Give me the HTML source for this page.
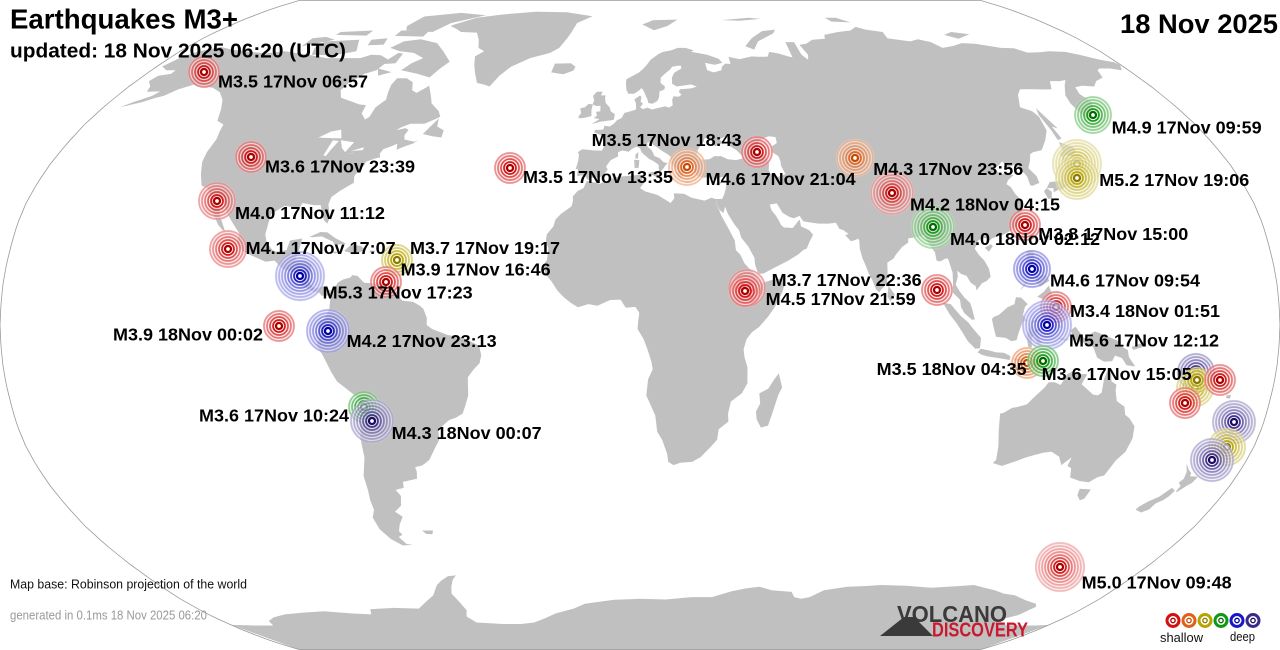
<!DOCTYPE html>
<html><head><meta charset="utf-8"><title>Earthquakes M3+</title>
<style>
html,body{margin:0;padding:0;background:#fff;}
svg{display:block;}
text{font-family:"Liberation Sans",Arial,sans-serif;}
.lb{font-weight:bold;font-size:17.5px;fill:#000;}
</style></head>
<body>
<svg id="s" width="1280" height="650" viewBox="0 0 1280 650" xmlns="http://www.w3.org/2000/svg">
<rect width="1280" height="650" fill="#fff"/>
<g id="land" fill="#c0c0c0" fill-rule="nonzero"></g>
<g id="lakes" fill="#fff"></g>
<path id="outline" fill="none" stroke="#9a9a9a" stroke-width="0.8"/>
<g id="marks"></g>

<!-- logo -->
<polygon points="880,636 904,617 914,617 933,636" fill="#3a3a3a"/>
<text x="897" y="622" font-size="23" font-weight="bold" fill="#3a3a3a" textLength="110" lengthAdjust="spacingAndGlyphs">VOLCANO</text>
<text x="932" y="636.5" font-size="20" font-weight="bold" fill="#c8192e" textLength="96" lengthAdjust="spacingAndGlyphs">DISCOVERY</text>

<!-- legend -->
<g id="legend"></g>
<text x="1160" y="642" font-size="12.5" fill="#111" textLength="43" lengthAdjust="spacingAndGlyphs">shallow</text>
<text x="1230" y="641" font-size="12.5" fill="#111" textLength="25" lengthAdjust="spacingAndGlyphs">deep</text>

<!-- titles -->
<text x="10" y="28.5" font-size="28" font-weight="bold" fill="#000" textLength="228" lengthAdjust="spacingAndGlyphs">Earthquakes M3+</text>
<text x="10" y="57.3" font-size="20.5" font-weight="bold" fill="#000" textLength="336" lengthAdjust="spacingAndGlyphs">updated: 18 Nov 2025 06:20 (UTC)</text>
<text x="1120" y="33" font-size="27" font-weight="bold" fill="#000" textLength="158" lengthAdjust="spacingAndGlyphs">18 Nov 2025</text>
<text x="10" y="588.3" font-size="12.5" fill="#111" textLength="237" lengthAdjust="spacingAndGlyphs">Map base: Robinson projection of the world</text>
<text x="10" y="619.3" font-size="12.5" fill="#999" textLength="197" lengthAdjust="spacingAndGlyphs">generated in 0.1ms 18 Nov 2025 06:20</text>

<!-- labels -->
<g class="lb">
<text class="lb" x="218" y="87.5" textLength="150" lengthAdjust="spacingAndGlyphs">M3.5 17Nov 06:57</text>
<text class="lb" x="265" y="172.5" textLength="150" lengthAdjust="spacingAndGlyphs">M3.6 17Nov 23:39</text>
<text class="lb" x="235" y="219" textLength="150" lengthAdjust="spacingAndGlyphs">M4.0 17Nov 11:12</text>
<text class="lb" x="245.7" y="254" textLength="150" lengthAdjust="spacingAndGlyphs">M4.1 17Nov 17:07</text>
<text class="lb" x="410" y="254" textLength="150" lengthAdjust="spacingAndGlyphs">M3.7 17Nov 19:17</text>
<text class="lb" x="400.7" y="275.5" textLength="150" lengthAdjust="spacingAndGlyphs">M3.9 17Nov 16:46</text>
<text class="lb" x="322.7" y="298.5" textLength="150" lengthAdjust="spacingAndGlyphs">M5.3 17Nov 17:23</text>
<text class="lb" x="113" y="340.5" textLength="150" lengthAdjust="spacingAndGlyphs">M3.9 18Nov 00:02</text>
<text class="lb" x="346.7" y="347" textLength="150" lengthAdjust="spacingAndGlyphs">M4.2 17Nov 23:13</text>
<text class="lb" x="199" y="421.5" textLength="150" lengthAdjust="spacingAndGlyphs">M3.6 17Nov 10:24</text>
<text class="lb" x="391.7" y="439" textLength="150" lengthAdjust="spacingAndGlyphs">M4.3 18Nov 00:07</text>
<text class="lb" x="523" y="183" textLength="150" lengthAdjust="spacingAndGlyphs">M3.5 17Nov 13:35</text>
<text class="lb" x="591.7" y="146" textLength="150" lengthAdjust="spacingAndGlyphs">M3.5 17Nov 18:43</text>
<text class="lb" x="705.7" y="185" textLength="150" lengthAdjust="spacingAndGlyphs">M4.6 17Nov 21:04</text>
<text class="lb" x="873.3" y="175" textLength="150" lengthAdjust="spacingAndGlyphs">M4.3 17Nov 23:56</text>
<text class="lb" x="910" y="210.7" textLength="150" lengthAdjust="spacingAndGlyphs">M4.2 18Nov 04:15</text>
<text class="lb" x="950" y="245" textLength="150" lengthAdjust="spacingAndGlyphs">M4.0 18Nov 02:12</text>
<text class="lb" x="1038.3" y="240" textLength="150" lengthAdjust="spacingAndGlyphs">M3.8 17Nov 15:00</text>
<text class="lb" x="771.7" y="286" textLength="150" lengthAdjust="spacingAndGlyphs">M3.7 17Nov 22:36</text>
<text class="lb" x="765.7" y="305" textLength="150" lengthAdjust="spacingAndGlyphs">M4.5 17Nov 21:59</text>
<text class="lb" x="1111.7" y="133.3" textLength="150" lengthAdjust="spacingAndGlyphs">M4.9 17Nov 09:59</text>
<text class="lb" x="1099.3" y="186" textLength="150" lengthAdjust="spacingAndGlyphs">M5.2 17Nov 19:06</text>
<text class="lb" x="1050" y="286.7" textLength="150" lengthAdjust="spacingAndGlyphs">M4.6 17Nov 09:54</text>
<text class="lb" x="1070" y="317" textLength="150" lengthAdjust="spacingAndGlyphs">M3.4 18Nov 01:51</text>
<text class="lb" x="1069" y="346.7" textLength="150" lengthAdjust="spacingAndGlyphs">M5.6 17Nov 12:12</text>
<text class="lb" x="876.7" y="375" textLength="150" lengthAdjust="spacingAndGlyphs">M3.5 18Nov 04:35</text>
<text class="lb" x="1041.7" y="380" textLength="150" lengthAdjust="spacingAndGlyphs">M3.6 17Nov 15:05</text>
<text class="lb" x="1081.7" y="588.3" textLength="150" lengthAdjust="spacingAndGlyphs">M5.0 17Nov 09:48</text>
</g>
</svg>

<script>
(function(){
var NS="http://www.w3.org/2000/svg";
var T=[[1,0],[.9986,.062],[.9954,.124],[.99,.186],[.9822,.248],[.973,.31],[.96,.372],[.9427,.434],[.9216,.4958],[.8962,.5571],[.8679,.6176],[.835,.6769],[.7986,.7346],[.7597,.7903],[.7186,.8435],[.6732,.8936],[.6213,.9394],[.5722,.9761],[.5322,1]];
var R=640/Math.PI, YS=324.6, L0=10;
function rb(lat){var a=Math.min(90,Math.abs(lat));var i=Math.min(17,Math.floor(a/5));var f=(a-i*5)/5;
 return [T[i][0]+(T[i+1][0]-T[i][0])*f, T[i][1]+(T[i+1][1]-T[i][1])*f];}
function PD(d,lat){var r=rb(lat);return [640+R*r[0]*d*Math.PI/180, 325-(lat<0?-1:1)*YS*r[1]];}
function P(lon,lat){var d=lon-L0;while(d<-180)d+=360;while(d>180)d-=360;return PD(d,lat);}
function path(a){var s='';for(var i=0;i<a.length;i+=2){var p=P(a[i],a[i+1]);s+=(i?'L':'M')+p[0].toFixed(1)+' '+p[1].toFixed(1);}return s+'Z';}

var NA=[-168,65.6,-166,68.3,-163,69.8,-156.8,71.3,-150,70.4,-141,69.7,-135,69.4,-129,70,-124,69.5,-117,68.8,-110,68,-104,68,-97,68,-94,69,-90,68.8,-86,67.6,-84,69.5,-82,69.3,-82,66.5,-86,66.3,-87,64.5,-90.5,63.5,-93.5,61,-94.5,59,-92.5,57,-88,56,-85,55.3,-82.3,55,-82.2,52.9,-80,51.3,-79,52,-78.7,54.5,-76.7,56.5,-77.5,58.5,-78,60.5,-77.5,62.3,-74,62.3,-71,61.2,-69.5,59,-67.5,58.3,-65,59.8,-64.5,60.3,-62,57.5,-60.5,55.5,-57,53.5,-55.7,52,-57,51.4,-60,50.2,-64.5,50.2,-67,49.3,-70.5,47.2,-68.5,48.5,-65.5,49.1,-64.3,48.6,-65,47.3,-64.5,46.2,-61,45.6,-60,46.1,-61.2,45.2,-63.5,44.5,-65.8,43.6,-66.2,45.1,-67.8,44.5,-70,43.7,-70.6,42.6,-70,41.7,-71.5,41.4,-73.9,40.6,-74,39.7,-75,38.8,-76,37,-75.5,35.3,-77,34.5,-79,33.3,-81,31.8,-81.3,30,-80.1,26.8,-80.4,25.2,-81.5,25.9,-82.7,28,-83.5,29.8,-85.5,29.8,-89,30.3,-89.5,29,-90.5,29.2,-94,29.6,-97.3,27.6,-97.5,25.5,-97.8,22.5,-97,20.5,-95,18.6,-94,18.2,-91,18.6,-90.4,21,-87,21.5,-87.5,18,-88.3,16,-85,16,-83.3,15,-83.5,12,-83.7,10.8,-82,9,-79.5,9.6,-77.5,8.6,-77.9,7.3,-79.8,7.3,-80.5,8,-82,8.2,-85.7,9.9,-85.8,11,-87.5,13,-91.3,13.9,-94,16,-96.5,15.7,-100,17,-103.5,18.3,-105.5,20.5,-105.3,22.7,-108,25.5,-110,27.5,-112.5,31,-114.7,31.7,-113,29,-112,27,-110,24,-109.5,23.2,-110.3,23.5,-112,25,-114.5,28,-115.9,30.5,-117.1,32.5,-118.5,34,-120.6,34.6,-122.5,37.5,-124,40.5,-124.4,43,-124,46.3,-124.7,48.4,-125,50,-128,51,-130,54,-132.5,56.5,-136,58.5,-140,59.7,-144,60,-148,60.5,-151.5,59.3,-154,57.5,-156,57,-159,55.8,-163,54.8,-164.5,54.5,-162,55.8,-158,57.5,-157,58.7,-161.5,58.6,-162.5,60,-165.5,61.5,-164.8,63,-161,63.5,-161,64.5,-164.5,64.5];
var SA=[-77.3,8.6,-76,9.5,-75.5,10.5,-74,11.3,-72,11.8,-71.5,12.4,-70,12.2,-68,10.5,-64.5,10.3,-62,10.7,-61,9,-59,8,-57,6,-54,5.8,-52,4.8,-51,4,-50,1.8,-50,0,-48.5,-1,-44,-2.5,-41,-2.9,-38.5,-3.7,-35.3,-5.2,-34.8,-7.5,-35.3,-9.5,-37,-11,-38.8,-13,-39,-17.5,-40,-20,-41,-22,-43,-23,-45,-23.6,-48.5,-26,-48.6,-28.5,-50.5,-31,-52.5,-33.5,-53.7,-34.2,-55,-34.9,-57.2,-35.3,-57,-36.4,-57.5,-38.2,-62,-39,-62.3,-40.5,-65,-41,-64,-42.5,-65,-45,-67.6,-46.5,-65.8,-47.8,-67.8,-49.8,-69,-51.5,-68.4,-52.4,-70,-53,-68.5,-54.8,-66.5,-55,-70,-55.2,-73,-53.5,-75,-51,-75.5,-48,-74,-46,-74,-43.5,-73.5,-41,-73.4,-37.5,-71.6,-33,-71.5,-28,-70.5,-24,-70.2,-18.5,-72,-17,-76,-14,-77.5,-11.5,-79.5,-7.5,-81.2,-5,-80.3,-3.4,-80,-2,-80.5,-0.5,-80,1,-78.8,1.5,-77.5,3.8,-77.3,6.5,-77.9,7.3];
var AF=[-5.9,35.8,-2,35.1,3,36.8,9.8,37.3,11.1,37,10.5,36,11.1,35.2,10,34,11.5,33.2,15.2,32.3,19,30.3,20.1,31.5,20,32.7,23,32.6,25.2,31.6,29,30.9,31,31.6,32.3,31.3,32.5,30,33.6,27.3,35.5,24,37.2,21,37.4,18.6,38.6,17.5,39.7,15.3,41.6,13.5,43.3,11.9,43.2,11.5,44.5,10.4,47,11.1,51.2,11.8,51,10.4,50.1,8,48,4.5,46,2,43.5,-0.5,41.5,-1.8,40,-3.5,39.2,-6,39.5,-8,40.4,-10.5,40.5,-14.5,39,-17,36,-19,35.3,-22,35.5,-24,32.8,-25.9,32.5,-28.5,31,-30,28,-32.8,25.5,-34,22,-34.2,20,-34.8,18.4,-34,18,-32,16.5,-28.6,15,-26.5,14.4,-22.5,11.8,-17.5,12.3,-13.5,13.6,-11,13.2,-9,12,-5.8,11,-3.5,9.3,-1,9.5,1,9.8,3,8.7,4.5,6,4.3,4.5,6.3,1.6,6.2,-2,4.8,-4.5,5.2,-7.5,4.4,-9.5,5.5,-11.5,6.9,-13.3,8.5,-15,10.8,-16.7,12.5,-17.5,14.7,-16.5,16.2,-16.2,19,-17,21,-16.8,22.5,-15,24.5,-14.5,26.2,-13,27.6,-10,29.5,-9.7,30.7,-9.8,32,-8.5,33.3,-6.8,34];
var EU=[-5.6,36,-6.3,36.8,-7.5,37.2,-8.9,37,-8.8,38.7,-9.5,38.8,-8.9,41,-8.9,42.5,-9.3,43,-8,43.7,-4,43.4,-1.8,43.4,-1.3,44.5,-1.2,46,-2.2,47.2,-4.6,48,-4.5,48.6,-1.8,48.7,-1.5,49.7,0.2,49.5,1.5,50.2,2.5,51.1,4,51.7,4.8,53,7,53.5,8.7,53.9,8.6,55.5,8.1,56.6,10,57.6,10.5,57.2,10.2,56,11,55.4,10,54.5,11,54,12.5,54.4,14,53.9,16,54.3,18.5,54.7,19.8,54.4,21,55,21,56.5,21.5,57.4,23.3,57.3,24.3,57.8,23.5,58.6,24,59.3,28,59.5,30,60,28,60.6,26.5,60.4,22.9,60,21.4,60.8,21.5,62.5,22.5,63.8,25.3,65,25.3,65.8,24,65.8,22,65.5,21.2,64.8,19,63.5,17.5,62.5,17.3,61,18.8,60,18.5,59.2,16.8,58.7,16.5,57,15.8,56.1,14.2,55.4,12.8,55.6,12.6,56.5,11.9,57.7,11.2,59,10.5,59.6,9.8,59,8,58.1,6,58.1,5.3,59,5,61,5.1,62,7,62.8,9.5,63.8,11,64.8,12.5,66,14,67.5,15.5,68.3,17,69.1,19,69.8,22,70.2,25,71,28,71,31,70.3,30,69.8,33,69.4,36,69,40,67.8,41,66.6,38,66.1,34.5,66.6,34.8,64.5,37,63.9,40,64.5,40.5,65.5,42,66.4,44,66.3,44,68.4,46,68,48,67.7,53,68.5,55,68.4,59,68.4,60.5,69.8,64,69.3,67,68.5,68.5,68.2,69,72.8,72.5,72.8,72.5,69,74,67.5,75,69,74,72,77,72.3,80.5,73.5,86,73.8,87,75,94,76,100,76.5,104,77.7,107,76.8,113,76,112,74,115,73.6,120,73,124,73.7,128,72.8,130,71,135,71.6,140,72.5,145,72.3,150,71.5,153,71,158,70.9,161,69.6,166,69.7,170,70,176,69.8,180,69,-175,67.5,-171,66.8,-170.3,66,-172.5,64.5,-176,65,180,65,178.5,64.5,177,62.5,173,61.5,170,60,166,60.2,163,59.8,162,58,163.3,56,162,54.5,160,53,158.5,52,156.7,51,156,53,155.6,55.5,156.7,57.7,160,60.3,162.5,61.8,160,61.5,156.5,61.5,154,59.3,152,59.2,148,59.3,143,59.3,140.5,57.8,137.5,54.5,140.5,53.5,141.3,52,140.5,48.5,138,46,135,43.5,132,43,130.7,42.5,129.7,41,128,39,129.4,37,129.3,35.3,127,34.6,126.3,34.7,126.5,36.8,126.1,37.7,124.3,39.9,121.5,39,121,40.7,119.5,39.8,118,39.1,117.7,38.5,118.9,37.5,120.7,37.8,122.5,37.2,120.3,36,119.3,35,120.3,34.3,120.9,32.7,121.9,31.2,122,29.8,121.5,28.5,120.6,27,119.5,25.5,118.5,24.5,117,23.5,114.5,22.4,113.5,22.2,111,21.5,110.4,21,109.8,21.5,108.5,21.7,107,21,106.5,20,105.7,19,106.6,17.5,108,16,109,14,109.3,12,108,10.9,106.7,10.4,105,8.6,104.8,9.7,103.5,10.5,102.5,12.2,101,12.7,100,13.5,100,12,99.2,10,100.3,8.3,101.5,6.8,103,5.5,103.5,4,104.2,1.4,103.4,1.3,101.3,2.9,100.4,4.5,100.2,6.3,98.3,8,98.5,10.5,98.6,13,97.7,16.5,97,16.5,95.4,15.8,94.4,16,94.2,18,93,19.8,92.2,21,91.8,22.5,90.5,22,89,21.8,87,21.5,86.9,20.5,85,19.4,83,17.5,82.2,16.5,80.3,15.5,80.2,13,79.8,10.3,78.2,8.9,77.5,8.1,76.6,8.9,75.8,11,74.8,12.9,74,15,73.4,16.5,72.8,19,72.9,21,72.6,21.5,72,21.2,70.5,20.8,69,22.3,70,22.6,68.7,23.5,67.5,23.9,66.7,25.4,64.5,25.2,61.6,25.2,58.5,25.6,57.3,25.8,56.4,27.1,54.7,26.5,53.5,26.8,51.5,27.9,50.1,30.2,48.5,30,48,29.9,48.4,28.5,49.6,27,50.2,26,50.8,24.8,51.6,24.2,52.5,24.2,54.1,24.1,55.5,25.5,56.3,26.2,56.5,24.5,58.7,23.6,59.8,22.4,58.5,20.5,57.7,19,56.6,18.6,55.2,17.6,52.2,16,49,14.6,45,12.8,43.5,12.7,42.7,15,42.6,16.7,41,19.5,39.1,21.7,38.5,23.6,37.3,25,35.6,27.6,34.9,29.4,34.3,27.8,33.2,28.6,32.6,29.9,32.3,31.3,34.2,31.3,34.9,32.5,35.5,33.9,35.9,35.5,36,36.8,34.6,36.8,32.5,36.1,30.6,36.7,29,36.6,27.3,37,26.3,38.2,26.7,39.3,26.2,40.1,26.2,40.6,24,40.8,23,40.4,22.6,40,23,39,24,38.2,23,37.5,22.7,36.5,21.7,36.8,21.1,37.8,21.5,38.3,20.2,39.5,19.4,40.4,19.5,41.8,18.5,42.5,17,43.2,15.3,44.2,14,44.9,13.6,45.6,12.3,45.4,12.3,44.4,13.6,43.5,14.5,42,16,41.5,17.2,40.5,18.5,40.2,18,39.9,17.2,39,16.5,38.4,16,38,15.7,38.2,15.7,39.8,14.9,40.3,14,40.8,12.8,41.3,11.2,42.4,10.5,43,10,44,8.8,44.4,7.5,43.8,6.5,43.1,4.5,43.4,3.2,43,3.2,41.9,1,41,0,39.8,-0.3,39.3,0.2,38.7,-0.7,37.6,-2,36.7,-4.5,36.6];
var ISL=[
[-72,78.5,-65,81,-55,82.3,-40,83.5,-25,83.3,-12,81.6,-18,79,-19,76,-20,74,-22,71,-25,69.5,-32,68,-38,65.5,-41,63,-43,60,-45,60.5,-48,61,-50.5,64,-52,66,-53.5,68.5,-51,70,-54,71,-56,73.5,-59,75.8,-66,76,-69,77,-73,78],
[-80,73.7,-72,72.5,-67,70,-62,67,-64,65,-66,62.5,-71,63.5,-78,64.5,-76,66.5,-73,68,-78,69.5,-84,70,-89,71,-86,73],
[-118,73,-105,73.5,-101,70,-108,68.8,-117,69,-119,71],
[-125,71.5,-115,73.5,-120,74.4,-125,74],
[-90,76.5,-78,76,-74,79,-62,82,-75,83,-90,81.5,-92,78],
[-92,76.5,-80,76.3,-80,74.5,-92,74.7],
[-117,76,-104,76.5,-104,74.8,-117,75],
[-100,73.5,-94,74,-93,72,-99,71.8],
[-87,65,-81,64,-85,63,-86,64],
[-59.3,47.6,-56,51.6,-55.5,49.5,-53,48.5,-53,46.7,-56,47],
[-85,21.9,-82,23.1,-80,23,-77.5,21.6,-74.2,20.2,-77.5,19.9,-78,20.7,-81.5,22,-84,21.8],
[-74.4,18.5,-72.8,19.9,-70,19.7,-68.3,18.6,-71.5,17.7,-74.4,18.3],
[-78.3,18.4,-76.3,18.1,-77,17.7],
[-67.2,18.5,-65.6,18.4,-65.8,18,-67.2,18],
[-5.7,50.1,-3,50.7,1.4,51.2,1.7,52.7,0.3,53.4,-0.2,54.5,-1.6,55.6,-2,57,-1.8,57.6,-3.5,57.7,-3,58.6,-5,58.6,-6.2,57.5,-5.6,56.3,-6,55.3,-4.8,54.8,-3.3,54.9,-3.2,53.4,-4.6,53.3,-4.2,52.3,-5.2,51.7,-3.3,51.4],
[-6,52.2,-6.2,53.9,-5.9,55.2,-7.3,55.4,-8.5,54.5,-10,54.2,-9.5,53,-10.4,51.9,-9.5,51.6,-8,51.8],
[-22.5,63.9,-22,66.4,-16,66.5,-14,65.5,-14.5,64.4,-18,63.4],
[11,78.5,16,80,27,80.2,22,78,16,76.6],
[52,71.5,56,74,62,76.3,68,76.8,66,75.5,58,73,55,70.5],
[96,79.5,104,79.2,100,81,95,81],
[137,75,142,76,148,75.2,141,73.8],
[47,80,60,81,65,80.5,55,79.8],
[12.4,37.8,15.6,38.3,15.1,36.7],
[8.4,39,9.6,39.1,9.8,41,8.2,41.1],
[8.6,41.4,9.4,41.4,9.5,43,8.6,42.4],
[23.5,35.3,26.3,35.2,24,35.6],
[32.3,35,34.6,35.7,33.5,34.6],
[79.8,7,80.2,9.8,81.9,7.5,80.6,5.9],
[130.9,34,132.5,35.5,136,35.8,137,37,138.5,37.9,140,40,140,41.5,141.5,41.4,142,39.5,141,38.3,140.9,36,140.3,35,139,34.7,137,34.6,135,33.5,133,34],
[129.7,33.2,130.2,31.3,131.3,31.5,132,33.1,130.9,34],
[132.5,33,134.7,33.8,133,34.2],
[140,41.5,141.5,42.3,143.2,41.9,145.5,43.3,145.3,44.4,141.9,45.5,141.3,43.2,140,42.6],
[142,46,143.5,46.5,143,49.5,144.5,49,143,53,142.6,54.3,141.7,52.5,142,48.5],
[120.1,23,121,25.2,122,25,121,22],
[108.6,19.2,110.5,20.1,111,19.6,109.6,18.2],
[120.5,18.5,122.2,18.5,122.3,16.5,121.6,15.5,124,13,122.5,13.5,121,13.8,120.6,14.5,120,16],
[122,7,124,8.3,125.5,9.8,126.5,7,125.4,5.6,124,6.3],
[122,11.8,125,12.5,125.8,11,123,9.5,122,10.5],
[117.2,8.5,119.7,11.4,119.2,10.2],
[109,1.5,109.6,-1,110.2,-2.9,113,-3.2,114.5,-4,116,-3.8,116.5,-2,117.5,0.5,118,1,119,0.9,117.8,2.5,118.4,4.5,119.2,5.2,117.5,6.8,116,6.9,115.5,5.2,113.5,4.4,111,2.5,109.6,2],
[95.3,5.6,97.5,5.2,100.3,2.2,102.3,0.7,103.8,-1,106,-3.2,105.8,-5.8,104.5,-5.9,102.3,-4,100.5,-1.5,99,0.5,97.2,2.6],
[105.2,-6.8,106,-5.9,108.3,-6.3,110.5,-6.8,112.6,-6.9,114.5,-7.7,114.4,-8.7,111,-8.2,108,-7.8,106.4,-7.4],
[115,-8.3,119,-8.5,122.5,-8.3,125,-8.5,127,-8.3,125,-9.5,123.5,-10.3,120,-10.3,116,-8.9],
[119.4,-5.5,120.4,-5.6,120.3,-3,121,-2.6,122,-4.7,123.2,-4.5,121.4,-1.9,123.3,-0.9,121,-1.3,120.2,0.4,122,1,124.5,1.5,125,1.6,124.2,0.4,120.8,1.3,120,0.8,119.7,-0.5,118.8,-2.8],
[128,-3.2,130.8,-3.5,130,-3.9,128.2,-3.6],
[127.6,1.8,128.7,1.5,128,0.2,128.8,-0.8,127.8,-0.5],
[131,-1.4,132.5,-0.4,135,-3.3,138,-1.6,141,-2.6,144.5,-3.9,146,-5.5,147.5,-6.2,148,-8,150,-10.3,147.5,-10,146,-8.2,144,-7.6,143.3,-9,141,-9.1,139,-8.1,137.7,-5.5,135,-4.4,133,-4,132,-2.8],
[148.5,-5.5,152,-4.2,151.5,-5.5,149,-6.2],
[113.5,-22,114,-26,115,-30,115.7,-33.5,115,-34.3,118,-35,121.8,-33.8,124,-33,126.5,-32.3,129,-31.7,131.2,-31.5,134,-32.7,135.6,-34.8,137.8,-32.9,137.5,-35,139,-35.6,140,-37.9,143.5,-38.8,146.4,-39.1,148.3,-37.8,150,-37.4,151.3,-33.6,153,-31.5,153.6,-28.2,153,-25.2,151,-23.2,149.5,-22.3,148.8,-20.3,146.3,-18.9,145.4,-16.3,145.3,-14.8,143.8,-14,143.5,-12.3,142.5,-10.7,141.6,-13.5,141.5,-16.8,140.6,-17.5,139.2,-17.3,137,-15.8,135.4,-14.7,136.7,-12.2,135,-12.2,132.5,-11.5,131,-12.2,129.5,-14.9,127.7,-14.2,126,-14.2,125,-15.6,123.5,-17,122.2,-18.2,120.8,-19.7,118,-20.4,116.7,-20.6,114.5,-21.8],
[144.7,-40.7,148.3,-40.9,148,-43.2,146.9,-43.6,145.2,-42.3],
[172.7,-34.4,174.5,-36,175.8,-36.8,176,-37.6,178.5,-37.7,177.9,-39.2,176.8,-40,175.2,-41.6,174.8,-41.3,175,-40,173.8,-39.2,174.6,-38.2,174.2,-36.5],
[172.8,-40.5,174.3,-41.2,173.8,-42.6,172.8,-43.6,171.3,-44.4,170.7,-45.9,169,-46.7,166.5,-46,166.8,-45.2,168.3,-44,170.8,-42.7,172,-41.4],
[49.3,-12,50.4,-15.5,49.4,-17.5,48,-22,47,-25,45,-25.5,43.6,-23.4,43.3,-21.5,44.4,-19.5,44,-17,46.5,-15.8,48,-13.6],
[-61.3,-51.3,-57.7,-51.3,-58.5,-52.3,-60.5,-52.2],
[164,-20.2,167,-22.4,166.4,-22.2],
[177.3,-17.5,178.6,-17.4,178.4,-18.3,177.3,-18.1]
];
var ANT=[-170,-78.3,-160,-78.5,-152,-78.5,-150,-77,-145,-75.8,-138,-74.8,-130,-74.3,-120,-73.8,-110,-74.5,-102,-74.8,-100,-73.2,-90,-72.8,-80,-73,-75,-71,-70,-69,-68,-67.5,-66,-66,-63.5,-64.8,-60,-63.5,-57,-63.3,-59,-64.5,-61,-66.5,-62.5,-68.5,-61.5,-71,-61,-73.5,-63,-75.5,-61,-77.5,-50,-78,-42,-78,-36,-77.5,-30,-76,-25,-74.5,-17,-73,-12,-71.5,-5,-70.8,0,-70.3,10,-70,20,-70.2,30,-69.5,38,-69.5,45,-67.8,50,-67,55,-66.5,60,-67.5,68,-68,70,-69.5,73,-70,76,-69.5,80,-67.5,88,-66.5,95,-66.3,100,-66,110,-66.2,120,-66.8,130,-66.3,135,-66,140,-66.8,145,-67.5,150,-68.5,155,-69,162,-70.5,168,-71.5,170,-72.5,168,-75,163,-77,167,-78,175,-78.5,185,-78.5,190,-78.3,190,-90,-170,-90];
var LAKES=[
[27.5,42.5,28,43.5,28.6,44.3,29.7,45.2,30.5,46.5,31.8,46.6,33,46,32.5,45.4,33.5,44.5,35,45,36.5,45.3,35,46.2,37.5,47.1,39,47.2,38,46.3,37.5,44.8,38.5,44.3,40,43.5,41.6,42,41.5,41.4,39.5,41,37,41.2,35,42,33,42,31.3,41.2,29,41.1,28,41.5],
[46.7,44.5,47.5,45.7,49,46.5,51,47,53,46.8,53,45.3,51.3,44.5,51,43,52.7,42,53,40.8,53,39.5,53.9,37.5,51.5,36.8,49.5,37.5,49,38.5,49.5,40.5,48.5,41.8,47.5,43],
[-92,46.7,-89,48.2,-86,48.7,-84.6,46.5,-87,46.5,-90,46.6],
[-87.8,42.2,-87,46,-85,45.8,-86.3,43.5,-87,42],
[-84.5,46,-80,45.5,-81.5,43,-83,44],
[-83.4,41.7,-79,42.8,-78.9,42.9,-81,42.3],
[-79.8,43.3,-76.2,44.2,-76.3,43.5]
];
function add(g,d){var p=document.createElementNS(NS,'path');p.setAttribute('d',d);g.appendChild(p);}
var land=document.getElementById('land');
[NA,SA,AF,EU,ANT].concat(ISL).forEach(function(a){add(land,path(a));});
var lk=document.getElementById('lakes');
LAKES.forEach(function(a){add(lk,path(a));});
// outline
var s='';for(var la=-90;la<=90;la+=2){var p=PD(-180,la);s+=(s?'L':'M')+p[0].toFixed(1)+' '+p[1].toFixed(1);}
for(la=90;la>=-90;la-=2){p=PD(180,la);s+='L'+p[0].toFixed(1)+' '+p[1].toFixed(1);}
document.getElementById('outline').setAttribute('d',s+'Z');

var C={r:['#a80000','#d41010'],o:['#c84a00','#e0601a'],y:['#8a7a00','#b8a400'],g:['#006a00','#109810'],b:['#0000a0','#1818c8'],n:['#1c0c60','#3a2a8c']};
var OP=[1,1,0.95,0.7,0.52,0.4,0.32,0.26,0.22];
function circ(g,x,y,r,att){var c=document.createElementNS(NS,'circle');c.setAttribute('cx',x);c.setAttribute('cy',y);c.setAttribute('r',r);for(var k in att)c.setAttribute(k,att[k]);g.appendChild(c);}
var M=[[204,72,'r',5],[251,157,'r',5],[217,201,'r',6],[228,249,'r',6],[300,276,'b',8],[397,260,'y',5],[386,282,'r',5],[279,326,'r',5],[328,331,'b',7],[364,407,'g',5],[372,421,'n',7],[510,168,'r',5],[687,167,'o',6],[757,152,'r',5],[855,158,'o',6],[892,193,'r',7],[933,227,'g',7],[1025,225,'r',5],[1032,269,'b',6],[747,288,'r',6],[745,291,'r',5],[937,290,'r',5],[1093,115,'g',6],[1077,164,'y',8],[1077,178,'y',7],[1056,307,'r',5],[1047,325,'b',8],[1027,363,'o',5],[1043,361,'g',5],[1196,372,'n',6],[1195,388,'y',6],[1197,380,'y',4],[1220,380,'r',5],[1185,403,'r',5],[1234,422,'n',7],[1227,447,'y',6],[1212,460,'n',7],[1060,567,'r',8]];
var mg=document.getElementById('marks');
M.forEach(function(m){
 var x=m[0],y=m[1],c=C[m[2]],n=m[3];
 circ(mg,x,y,3*n+1.2,{fill:'#fff','fill-opacity':0.6});
 circ(mg,x,y,3*n+1.2,{fill:c[1],'fill-opacity':0.08});
 for(var i=n;i>=2;i--){circ(mg,x,y,3*i,{fill:'none',stroke:c[1],'stroke-width':1.7,'stroke-opacity':OP[i]});}
 circ(mg,x,y,3,{fill:'#fff',stroke:c[0],'stroke-width':2.3});
 circ(mg,x,y,1.2,{fill:'#fff'});
});
var lg=document.getElementById('legend');
['r','o','y','g','b','n'].forEach(function(k,i){
 var x=1173+i*16,y=620.5;
 circ(lg,x,y,6,{fill:'#fff',stroke:C[k][1],'stroke-width':3});
 circ(lg,x,y,2.2,{fill:'#fff',stroke:C[k][0],'stroke-width':1.3});
});
})();
</script>
</body></html>
